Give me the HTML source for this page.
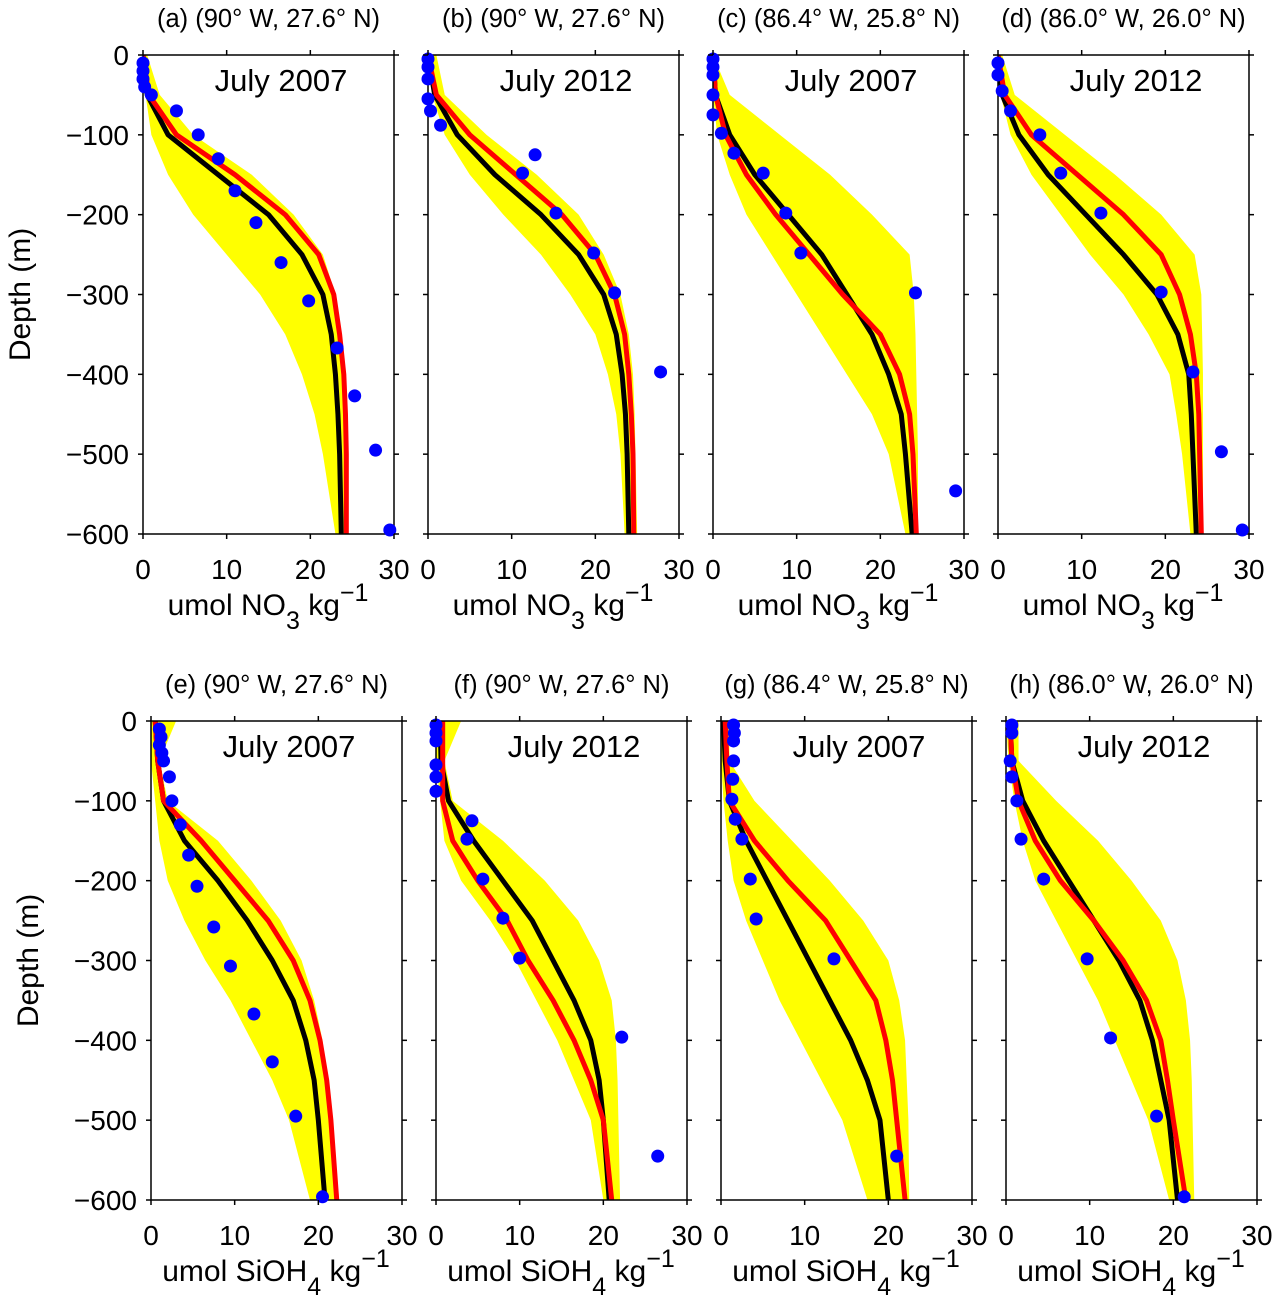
<!DOCTYPE html>
<html><head><meta charset="utf-8"><style>
body{margin:0;background:#fff}
svg text{font-family:"Liberation Sans",Arial,sans-serif;fill:#000}
</style></head><body>
<svg id="chart" xmlns="http://www.w3.org/2000/svg" width="1283" height="1304" viewBox="0 0 1283 1304"></svg>
<script>
const depthGrid=[0,-50,-100,-150,-200,-250,-300,-350,-400,-450,-500,-600];
const xTicks=[0,10,20,30];
const yTicks=[0,-100,-200,-300,-400,-500,-600];
const panelLetters=["a","b","c","d","e","f","g","h"];
const panelLocs=["(90° W, 27.6° N)","(90° W, 27.6° N)","(86.4° W, 25.8° N)","(86.0° W, 26.0° N)","(90° W, 27.6° N)","(90° W, 27.6° N)","(86.4° W, 25.8° N)","(86.0° W, 26.0° N)"];
const panelMonths=["July 2007","July 2012","July 2007","July 2012","July 2007","July 2012","July 2007","July 2012"];

const blackA=[0,0.5,3,9,15,19,21.5,22.5,23,23.3,23.5,23.7];
const redA=[0,0.7,4,11,17,21,22.8,23.5,24,24.2,24.3,24.3];
const loA=[0,0.3,1,3,6,10,14,17,19,20.5,21.5,23];
const hiA=[0.5,2,6,13,18,21.5,23,23.7,24,24.3,24.4,24.5];
const obsXA=[0,0,0,0.2,1,4,6.6,9,11,13.5,16.5,19.8,23.2,25.3,27.8,29.5];
const obsDA=[-10,-20,-30,-40,-50,-70,-100,-130,-170,-210,-260,-308,-367,-427,-495,-595];

const blackB=[0,0.8,3.5,8,13.5,18,21,22.5,23.2,23.6,23.8,24];
const redB=[0,1,5,10.5,16,20,22.3,23.5,24,24.3,24.5,24.6];
const loB=[0,0.5,2,5,9,13.5,17,20,21.5,22.5,23,23.5];
const hiB=[1,2,7,13,18,21,23,24,24.5,24.7,24.8,25];
const obsXB=[0,0,0,0,0.3,1.5,12.8,11.3,15.3,19.8,22.3,27.8];
const obsDB=[-5,-15,-30,-55,-70,-88,-125,-148,-198,-248,-298,-397];

const blackC=[0,0.3,2,5,9,13,16,19,21,22.5,23,23.8];
const redC=[0,0.3,1.5,4,7.5,11.5,15.5,20,22.3,23.5,23.9,24.3];
const loC=[0,0,0.5,2,4,7,10,13,16,19,21,23];
const hiC=[0,2,8,14,19,23.5,24,24.2,24.3,24.4,24.5,24.5];
const obsXC=[0,0,0,0,0,1,2.5,6,8.7,10.5,24.2,29];
const obsDC=[-5,-15,-25,-50,-75,-98,-123,-148,-198,-248,-298,-546];

const blackD=[0,0.5,2.5,6,10.5,15,19,21.5,22.8,23.1,23.3,23.7];
const redD=[0,0.8,4,9.5,15,19.5,21.7,23,23.7,24,24.1,24.3];
const loD=[0,0.3,1.5,4,7.5,11,15,18,20.5,21.3,22,23];
const hiD=[0.5,2,8,14,19.5,23.5,24.3,24.4,24.5,24.5,24.5,24.5];
const obsXD=[0,0,0.5,1.5,5,7.5,12.3,19.5,23.3,26.7,29.2];
const obsDD=[-10,-25,-45,-70,-100,-148,-198,-297,-397,-497,-595];

const blackE=[0.5,0.8,1.5,4,8,11.5,14.5,17,18.5,19.5,20,20.8];
const redE=[0.5,0.8,1.5,6,10,14,17,19,20.2,21,21.5,22.2];
const loE=[0,0,0.5,1,2,4,6.5,9.5,12,14.5,16.5,19];
const hiE=[3,1,2,8,12,15.5,18,19.5,20.5,21,21.5,22.5];
const obsXE=[1,1.2,1,1.3,1.5,2.2,2.5,3.5,4.5,5.5,7.5,9.5,12.3,14.5,17.3,20.5];
const obsDE=[-10,-20,-30,-40,-50,-70,-100,-130,-168,-207,-258,-307,-367,-427,-495,-596];

const blackF=[0.5,0.6,1.5,4.5,8,11.5,14,16.5,18.5,19.5,20,20.7];
const redF=[0.8,0.8,0.8,2,5,8.5,11,14,16.5,18.5,20,21];
const loF=[0,0,0.5,1,3,6.5,9.5,12,14.5,16.5,18.5,20];
const hiF=[3,1,2,8,13,17,19.5,21,21.5,21.7,21.8,22];
const obsXF=[0,0,0,0,0,0,4.3,3.7,5.6,8,10,22.2,26.5];
const obsDF=[-5,-15,-25,-55,-70,-88,-125,-148,-198,-247,-297,-396,-545];

const blackG=[0.3,0.5,1,3,5.5,8,10.5,13,15.5,17.5,19,20];
const redG=[0.5,0.7,1,4,8,12.5,15.5,18.5,19.7,20.5,21,22];
const loG=[0,0,0.3,0.8,1.5,3,5,7,9.5,12,14.5,17.5];
const hiG=[1,1,4,8.5,13,17,20,21.3,22,22.2,22.4,22.5];
const obsXG=[1.5,1.6,1.5,1.5,1.4,1.3,1.7,2.5,3.5,4.2,13.5,21];
const obsDG=[-5,-15,-25,-50,-73,-98,-123,-148,-198,-248,-298,-545];

const blackH=[0.5,0.7,2,4.5,7.5,10.5,13.5,16,17.5,18.5,19.5,20.5];
const redH=[0.5,0.7,1.5,3.5,6.5,10.5,14,16.8,18.5,19.3,20,21.5];
const loH=[0,0.3,1,2,3.5,6,8.5,11,13,15,17,19.5];
const hiH=[1.5,1.5,6,11,15,18.5,20.5,21.5,22,22.2,22.3,22.5];
const obsXH=[0.7,0.7,0.5,0.7,1.3,1.8,4.5,9.7,12.5,18,21.3];
const obsDH=[-5,-15,-50,-70,-100,-148,-198,-298,-397,-495,-596];

const blacks=[blackA,blackB,blackC,blackD,blackE,blackF,blackG,blackH];
const reds=[redA,redB,redC,redD,redE,redF,redG,redH];
const los=[loA,loB,loC,loD,loE,loF,loG,loH];
const his=[hiA,hiB,hiC,hiD,hiE,hiF,hiG,hiH];
const obsXs=[obsXA,obsXB,obsXC,obsXD,obsXE,obsXF,obsXG,obsXH];
const obsDs=[obsDA,obsDB,obsDC,obsDD,obsDE,obsDF,obsDG,obsDH];

const NS="http://www.w3.org/2000/svg";
const svg=document.getElementById("chart");
function mk(tag,attrs,parent,txt){const e=document.createElementNS(NS,tag);for(const k in attrs)e.setAttribute(k,attrs[k]);if(txt!==undefined)e.textContent=txt;(parent||svg).appendChild(e);return e;}

const lefts=[143,428,713,998,151,436,721,1006];
const W=251,H=479;
for(let p=0;p<8;p++){
  const top=p<4?55:721;
  const L=lefts[p];
  const sx=v=>L+v/30*W;
  const sy=d=>top+(-d)/600*H;
  const g=mk("g",{});
  
  
  const clip=mk("clipPath",{id:"c"+p},g);mk("rect",{x:L,y:top,width:W,height:H},clip);
  const pg=mk("g",{"clip-path":"url(#c"+p+")"},g);
  let pts=depthGrid.map((d,i)=>sx(his[p][i])+","+sy(d));
  pts=pts.concat(depthGrid.slice().reverse().map((d,i)=>sx(los[p][depthGrid.length-1-i])+","+sy(d)));
  const band=mk("polygon",{points:pts.join(" "),fill:"#ffff00"},pg);
  
  
  const bl=mk("polyline",{points:depthGrid.map((d,i)=>sx(blacks[p][i])+","+sy(d)).join(" "),fill:"none",stroke:"#000","stroke-width":5,"stroke-linejoin":"round"},pg);
  
  
  const rl=mk("polyline",{points:depthGrid.map((d,i)=>sx(reds[p][i])+","+sy(d)).join(" "),fill:"none",stroke:"#ff0000","stroke-width":5,"stroke-linejoin":"round"},pg);
  
  
  const fr=mk("rect",{x:L,y:top,width:W,height:H,fill:"none",stroke:"#000","stroke-width":1.5},g);
  
  
  obsXs[p].forEach((v,i)=>{
    const c=mk("circle",{cx:sx(v),cy:sy(obsDs[p][i]),r:6.5,fill:"#0000ff"},g);
    
    
  });
  xTicks.forEach(t=>{
    mk("line",{x1:sx(t),x2:sx(t),y1:top+H,y2:top+H+5,stroke:"#000","stroke-width":1.5},g);
    mk("line",{x1:sx(t),x2:sx(t),y1:top,y2:top-5,stroke:"#000","stroke-width":1.5},g);
    const tl=mk("text",{x:sx(t),y:top+H+45,"font-size":28,"text-anchor":"middle"},g,String(t));
    
    
  });
  yTicks.forEach(t=>{
    mk("line",{x1:L,x2:L-5,y1:sy(t),y2:sy(t),stroke:"#000","stroke-width":1.5},g);
    mk("line",{x1:L+W,x2:L+W+5,y1:sy(t),y2:sy(t),stroke:"#000","stroke-width":1.5},g);
    if(p===0||p===4){
      const tl=mk("text",{x:L-14,y:sy(t)+10,"font-size":28,"text-anchor":"end"},g,t===0?"0":"\u2212"+(-t));
      
      
    }
  });
  const ti=mk("text",{x:L+W/2,y:top-28,"font-size":25.5,"text-anchor":"middle"},g,"("+panelLetters[p]+") "+panelLocs[p]);
  
  
  const mo=mk("text",{x:L+138,y:top+36,"font-size":31,"text-anchor":"middle"},g,panelMonths[p]);
  
  
  const xt=mk("text",{x:L+125,y:top+H+81,"font-size":30,"text-anchor":"middle"},g);
  
  
  const nut=p<4?["NO","3"]:["SiOH","4"];
  mk("tspan",{},xt,"umol "+nut[0]);
  mk("tspan",{dy:14,"font-size":25},xt,nut[1]);
  mk("tspan",{dy:-14},xt," kg");
  mk("tspan",{dy:-14,"font-size":25},xt,"\u22121");
  if(p===0||p===4){
    const cx=p===0?30:38, cy=top+H/2;
    const yt=mk("text",{x:cx,y:cy,"font-size":30,"text-anchor":"middle",transform:"rotate(-90 "+cx+" "+cy+")"},g,"Depth (m)");
    
    
  }
}
</script>
</body></html>
